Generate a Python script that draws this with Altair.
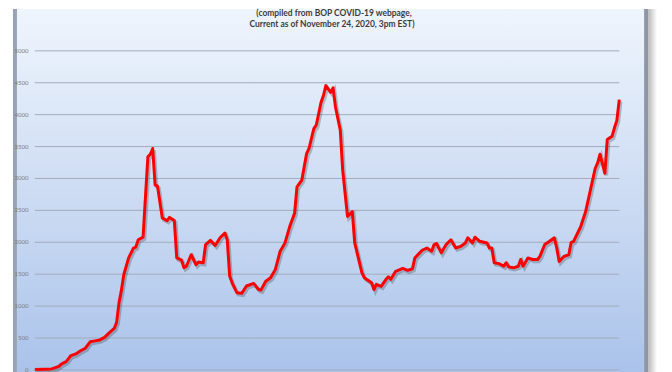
import altair as alt
import pandas as pd

# Day offsets (from the first reported day) and active cases
days = [0, 4, 7, 10, 11, 13, 15, 17, 19, 21, 23, 25, 27, 29, 31, 33, 34, 35, 36, 37,
        39, 41, 42, 43, 45, 46, 47, 48, 49, 50, 51, 53, 55, 56, 58, 59, 61, 62, 63, 65,
        67, 68, 70, 71, 73, 75, 77, 79, 80, 81, 82, 84, 86, 88, 91, 93, 94, 96, 98, 100,
        102, 104, 106, 108, 109, 111, 113, 114, 116, 117, 119, 120, 121, 123, 124, 125, 127, 128, 130, 132,
        133, 136, 137, 140, 141, 142, 144, 146, 147, 148, 150, 152, 153, 155, 157, 158, 161, 163, 165, 166,
        167, 169, 171, 173, 175, 177, 179, 180, 182, 183, 185, 188, 189, 190, 191, 193, 195, 196, 197, 199,
        201, 202, 203, 205, 207, 209, 210, 212, 214, 216, 217, 218, 220, 222, 223, 224, 227, 229, 231, 233,
        234, 235, 237, 238, 240, 241, 242, 243]
cases = [5, 10, 15, 55, 90, 130, 225, 250, 300, 340, 440, 455, 470, 510, 585, 650, 745, 1055, 1250, 1495,
         1755, 1910, 1925, 2040, 2080, 2715, 3340, 3380, 3470, 2900, 2880, 2380, 2340, 2390, 2340, 1755, 1720, 1600, 1625, 1805,
         1650, 1690, 1680, 1965, 2030, 1950, 2070, 2145, 2040, 1470, 1365, 1210, 1200, 1315, 1355, 1260, 1250, 1390, 1445, 1575,
         1860, 1990, 2250, 2455, 2870, 2975, 3390, 3470, 3780, 3835, 4195, 4300, 4455, 4350, 4420, 4120, 3755, 3130, 2405, 2480,
         1990, 1520, 1445, 1365, 1260, 1340, 1310, 1420, 1460, 1420, 1545, 1575, 1590, 1560, 1585, 1755, 1875, 1910, 1860, 1965,
         1980, 1835, 1965, 2040, 1910, 1935, 1990, 2070, 1990, 2080, 2015, 1990, 1910, 1910, 1680, 1665, 1625, 1680, 1615, 1600,
         1625, 1730, 1625, 1755, 1730, 1730, 1780, 1965, 2015, 2070, 1910, 1700, 1780, 1805, 2000, 2015, 2250, 2480, 2820, 3160,
         3245, 3380, 3080, 3610, 3660, 3795, 3910, 4235]
y_ticks = [0, 500, 1000, 1500, 2000, 2500, 3000, 3500, 4000, 4500, 5000]
y_labels = ["0", "500", "1000", "1500", "2000", "2500", "3000", "3500", "4000", "4500", "5000"]
title_lines = ["(compiled from BOP COVID-19 webpage,",
               "Current as of November 24, 2020, 3pm EST)"]

df = pd.DataFrame({"day": days, "cases": cases})
ticks_df = pd.DataFrame({"v": y_ticks, "label": y_labels})
one = pd.DataFrame({"a": [0]})

xscale = alt.Scale(domain=[0, 243], nice=False, zero=False)
yscale = alt.Scale(domain=[0, 5000], nice=False)

bg = alt.Chart(one).mark_rect(
    clip=False,
    fill=alt.Gradient(
        gradient="linear", x1=0, x2=0, y1=0, y2=1,
        stops=[alt.GradientStop(color="#eff5fd", offset=0),
               alt.GradientStop(color="#cddcf3", offset=0.5),
               alt.GradientStop(color="#a9c2ea", offset=1)]),
).encode(x=alt.value(-18), x2=alt.value(613), y=alt.value(-42), y2=alt.value(330))

left_border = alt.Chart(one).mark_rect(clip=False, color="#98a3b6").encode(
    x=alt.value(-22), x2=alt.value(-18), y=alt.value(-42), y2=alt.value(330))
right_border = alt.Chart(one).mark_rect(clip=False, color="#8d96a7").encode(
    x=alt.value(613), x2=alt.value(617), y=alt.value(-42), y2=alt.value(330))
right_shadow = alt.Chart(one).mark_rect(
    clip=False,
    fill=alt.Gradient(
        gradient="linear", x1=0, x2=1, y1=0, y2=0,
        stops=[alt.GradientStop(color="#b9b9b9", offset=0),
               alt.GradientStop(color="#ffffff", offset=1)]),
).encode(x=alt.value(617), x2=alt.value(626), y=alt.value(-42), y2=alt.value(330))

grid = alt.Chart(ticks_df).mark_rule(color="#a2abbb", strokeWidth=1).encode(
    y=alt.Y("v:Q", scale=yscale, axis=None)
)
labels = alt.Chart(ticks_df).mark_text(font="Lato", fontSize=6, color="#7c7c7c",
                                       align="right", baseline="middle", clip=False).encode(
    y=alt.Y("v:Q", scale=yscale, axis=None),
    x=alt.value(-6.5),
    text="label:N",
)

shadow = alt.Chart(df).mark_line(color="#404040", opacity=0.3, strokeWidth=3.5,
                                 xOffset=1.5, yOffset=2).encode(
    x=alt.X("day:Q", scale=xscale, axis=None),
    y=alt.Y("cases:Q", scale=yscale, axis=None),
)
line = alt.Chart(df).mark_line(color="#ff0000", strokeWidth=3, strokeJoin="round").encode(
    x=alt.X("day:Q", scale=xscale, axis=None),
    y=alt.Y("cases:Q", scale=yscale, axis=None),
)

t1 = alt.Chart(one).mark_text(font="Lato", fontWeight="bold", fontSize=8.5, color="#3c3c3c",
                              align="center", baseline="alphabetic", clip=False).encode(
    text=alt.value(title_lines[0]), x=alt.value(301), y=alt.value(-35))
t2 = alt.Chart(one).mark_text(font="Lato", fontWeight="bold", fontSize=8.5, color="#3c3c3c",
                              align="center", baseline="alphabetic", clip=False).encode(
    text=alt.value(title_lines[1]), x=alt.value(299), y=alt.value(-24.5))

chart = alt.layer(bg, left_border, right_border, right_shadow, grid, labels, shadow, line, t1, t2).properties(
    width=588, height=321,
    autosize=alt.AutoSizeParams(type="none"),
    padding={"left": 27, "top": 42, "right": 45, "bottom": 2},
    background="#ffffff",
).configure_view(stroke=None)

chart.save("out.html", embed_options={"renderer": "svg", "actions": False})
